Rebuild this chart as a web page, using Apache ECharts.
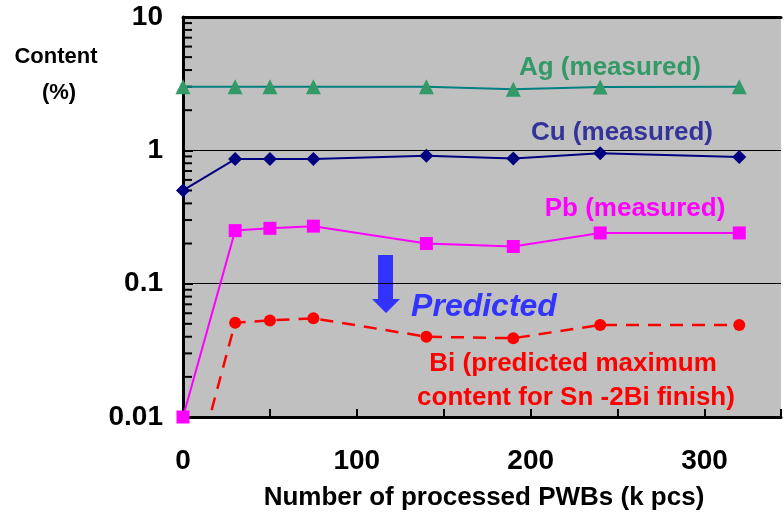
<!DOCTYPE html>
<html>
<head>
<meta charset="utf-8">
<script src="https://cdn.jsdelivr.net/npm/echarts@6/dist/echarts.min.js"></script>
<style>
  html, body { margin: 0; padding: 0; background: #fff; }
  #chart { width: 784px; height: 512px; }
</style>
</head>
<body>
<div id="chart"></div>
<script>
// processed PWBs (k pcs)
var xValues = [0, 30, 50, 75, 140, 190, 240, 320];
// content (%)
var agValues = [3.0, 3.0, 3.0, 3.0, 3.0, 2.87, 2.98, 3.0];
var cuValues = [0.50, 0.86, 0.86, 0.86, 0.91, 0.87, 0.95, 0.89];
var pbValues = [0.01, 0.25, 0.26, 0.27, 0.20, 0.19, 0.24, 0.24];
var biValues = [0.0018, 0.051, 0.053, 0.055, 0.040, 0.039, 0.049, 0.049];
var yTickLabels = {'-2': '0.01', '-1': '0.1', '0': '1', '1': '10'};
// minor ticks 2..9 of each decade
var minorTicks = [];
[0.01, 0.1, 1].forEach(function (d) {
    for (var k = 2; k <= 9; k++) minorTicks.push([0, +(d * k).toPrecision(2)]);
});

var FONT = 'Liberation Sans, Arial, sans-serif';

function pairs(ys) {
    var res = [];
    for (var i = 0; i < xValues.length; i++) res.push([xValues[i], ys[i]]);
    return res;
}

var myChart = echarts.init(document.getElementById('chart'));
var option = {
    animation: false,
    grid: {
        left: 183, top: 17, right: 0, bottom: 95,
        show: true, backgroundColor: '#c0c0c0', borderWidth: 0
    },
    xAxis: [{
        type: 'value', min: 0, max: 344, interval: 50,
        axisLine: { lineStyle: { color: '#000', width: 3 } },
        axisTick: { inside: true, length: 8, lineStyle: { color: '#000', width: 2 } },
        axisLabel: {
            margin: 30, fontFamily: FONT, fontWeight: 'bold', fontSize: 28, color: '#000',
            formatter: function (v) { return v % 100 === 0 ? String(v) : ''; }
        },
        splitLine: { show: false }
    }, {
        type: 'value', position: 'top', min: 0, max: 344,
        axisLine: { show: true, lineStyle: { color: '#000', width: 3 } },
        axisTick: { show: false }, axisLabel: { show: false }, splitLine: { show: false }
    }],
    yAxis: {
        type: 'log', logBase: 10, min: 0.01, max: 10,
        axisLine: { show: true, lineStyle: { color: '#000', width: 3 } },
        axisTick: { show: true, inside: true, length: 10, lineStyle: { color: '#000', width: 2 } },
        axisLabel: {
            margin: 20, fontFamily: FONT, fontWeight: 'bold', fontSize: 28, color: '#000',
            formatter: function (v) { return yTickLabels[Math.round(Math.log10(v))] || ''; }
        },
        splitLine: { show: true, lineStyle: { color: '#000', width: 1 } }
    },
    series: [{
        type: 'custom', data: minorTicks, silent: true, clip: false,
        renderItem: function (params, api) {
            var p = api.coord([0, api.value(1)]);
            return {
                type: 'line',
                shape: { x1: p[0], y1: p[1], x2: p[0] + 9, y2: p[1] },
                style: { stroke: '#000', lineWidth: 2 }
            };
        }
    }, {
        name: 'Ag', type: 'line', data: pairs(agValues),
        symbol: 'triangle', symbolSize: 15,
        itemStyle: { color: '#339966' },
        lineStyle: { color: '#008080', width: 2 }
    }, {
        name: 'Cu', type: 'line', data: pairs(cuValues),
        symbol: 'diamond', symbolSize: 14,
        itemStyle: { color: '#000080' },
        lineStyle: { color: '#000080', width: 2 }
    }, {
        name: 'Pb', type: 'line', data: pairs(pbValues),
        symbol: 'rect', symbolSize: 13,
        itemStyle: { color: '#ff00ff' },
        lineStyle: { color: '#ff00ff', width: 2 }
    }, {
        name: 'Bi', type: 'line', data: pairs(biValues), clip: true,
        symbol: 'circle', symbolSize: 12,
        itemStyle: { color: '#ff0000' },
        lineStyle: { color: '#ff0000', width: 2.5, type: [13, 9] }
    }],
    graphic: [
        { type: 'text', x: 56, y: 57, style: { text: 'Content', font: 'bold 22px ' + FONT, fill: '#000', align: 'center', verticalAlign: 'middle' } },
        { type: 'text', x: 59, y: 93, style: { text: '(%)', font: 'bold 22px ' + FONT, fill: '#000', align: 'center', verticalAlign: 'middle' } },
        { type: 'text', x: 484, y: 498, style: { text: 'Number of processed PWBs (k pcs)', font: 'bold 26px ' + FONT, fill: '#000', align: 'center', verticalAlign: 'middle' } },
        { type: 'text', x: 610, y: 68, style: { text: 'Ag (measured)', font: 'bold 26px ' + FONT, fill: '#339966', align: 'center', verticalAlign: 'middle' } },
        { type: 'text', x: 622, y: 133, style: { text: 'Cu (measured)', font: 'bold 26px ' + FONT, fill: '#333399', align: 'center', verticalAlign: 'middle' } },
        { type: 'text', x: 635, y: 209, style: { text: 'Pb (measured)', font: 'bold 26px ' + FONT, fill: '#ff00ff', align: 'center', verticalAlign: 'middle' } },
        { type: 'text', x: 484, y: 307, style: { text: 'Predicted', font: 'italic bold 32px ' + FONT, fill: '#3333ff', align: 'center', verticalAlign: 'middle' } },
        { type: 'text', x: 573, y: 364, style: { text: 'Bi (predicted maximum', font: 'bold 26px ' + FONT, fill: '#ff0000', align: 'center', verticalAlign: 'middle' } },
        { type: 'text', x: 576, y: 398, style: { text: 'content for Sn -2Bi finish)', font: 'bold 26px ' + FONT, fill: '#ff0000', align: 'center', verticalAlign: 'middle' } },
        { type: 'polygon', shape: { points: [[378, 255], [393, 255], [393, 299], [400, 299], [386, 313], [372, 299], [378, 299]] }, style: { fill: '#3333ff' } }
    ]
};
myChart.setOption(option);
</script>
</body>
</html>
